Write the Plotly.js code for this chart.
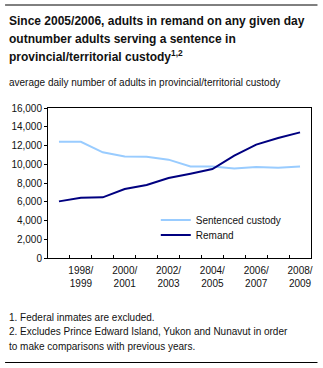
<!DOCTYPE html>
<html>
<head>
<meta charset="utf-8">
<script src="https://cdn.plot.ly/plotly-3.0.1.min.js"></script>
<style>html,body{margin:0;padding:0;background:#fff;}#chart{width:323px;height:368px;}</style>
</head>
<body>
<div id="chart"></div>
<script>
const years = ['1997/1998','1998/1999','1999/2000','2000/2001','2001/2002','2002/2003','2003/2004','2004/2005','2005/2006','2006/2007','2007/2008','2008/2009'];
const sentenced = [12400, 12400, 11270, 10840, 10800, 10490, 9770, 9770, 9560, 9700, 9630, 9770];
const remand = [6040, 6430, 6470, 7360, 7780, 8530, 8990, 9490, 10910, 12090, 12800, 13400];
const tickLabels = ['', '1998/<br>1999', '', '2000/<br>2001', '', '2002/<br>2003', '', '2004/<br>2005', '', '2006/<br>2007', '', '2008/<br>2009'];
const titleLines = ['Since 2005/2006, adults in remand on any given day', 'outnumber adults serving a sentence in', 'provincial/territorial custody<sup>1,2</sup>'];
const subtitleText = 'average daily number of adults in provincial/territorial custody';
const footnoteLines = ['1. Federal inmates are excluded.', '2. Excludes Prince Edward Island, Yukon and Nunavut in order', 'to make comparisons with previous years.'];

const W = 323, H = 368;
const L = 48, R = 311.5, T = 108, B = 258;
const pw = R - L, ph = B - T;
const px = x => (x - L) / pw;
const py = y => (B - y) / ph;
const FONT = 'Liberation Sans, Arial, sans-serif';

const traces = [
  {x: years, y: sentenced, type: 'scatter', mode: 'lines', name: 'Sentenced custody',
   line: {color: '#99CCFF', width: 2}, legend: 'legend'},
  {x: years, y: remand, type: 'scatter', mode: 'lines', name: 'Remand',
   line: {color: '#000080', width: 2}, legend: 'legend2'}
];

const legendBase = {xanchor: 'left', yanchor: 'middle', bgcolor: 'rgba(0,0,0,0)', borderwidth: 0, itemwidth: 30,
                    font: {family: FONT, size: 10, color: '#111'}};

const titleY = [21, 38.5, 56];
const footY = [317, 331.5, 346];

const annotations = [];
titleLines.forEach((t, i) => annotations.push({
  text: '<b>' + t + '</b>', xref: 'paper', yref: 'paper', x: px(7), y: py(titleY[i]), xanchor: 'left', yanchor: 'middle',
  showarrow: false, font: {family: FONT, size: 12, color: '#111'}}));
annotations.push({text: subtitleText, xref: 'paper', yref: 'paper', x: px(7), y: py(82), xanchor: 'left', yanchor: 'middle',
  showarrow: false, font: {family: FONT, size: 10, color: '#111'}});
footnoteLines.forEach((t, i) => annotations.push({
  text: t, xref: 'paper', yref: 'paper', x: px(7), y: py(footY[i]), xanchor: 'left', yanchor: 'middle',
  showarrow: false, font: {family: FONT, size: 10, color: '#111'}}));

const layout = {
  width: W, height: H,
  margin: {l: L, r: W - R, t: T, b: H - B, pad: 0},
  paper_bgcolor: '#fff', plot_bgcolor: '#fff',
  font: {family: FONT, size: 10, color: '#111'},
  showlegend: true,
  legend: Object.assign({x: px(156), y: py(220)}, legendBase),
  legend2: Object.assign({x: px(156), y: py(235)}, legendBase),
  xaxis: {type: 'category', range: [-0.5, 11.5], tickmode: 'array', tickvals: years, ticktext: tickLabels,
          tickson: 'boundaries', ticks: 'inside', ticklen: 3, tickcolor: '#000', tickangle: 0, ticklabelstandoff: 3,
          showline: true, linecolor: '#000', linewidth: 1, mirror: true, showgrid: false, zeroline: false,
          tickfont: {family: FONT, size: 10, color: '#111'}},
  yaxis: {range: [0, 16000], dtick: 2000, tick0: 0, tickformat: ',d', ticks: 'outside', ticklen: 3, tickcolor: '#000',
          showline: true, linecolor: '#000', linewidth: 1, mirror: true, showgrid: false, zeroline: false,
          tickfont: {family: FONT, size: 10, color: '#111'}},
  annotations: annotations,
  shapes: [
    {type: 'line', xref: 'paper', yref: 'paper', x0: px(5), x1: px(318), y0: py(5), y1: py(5), line: {color: '#000', width: 1}},
    {type: 'line', xref: 'paper', yref: 'paper', x0: px(5), x1: px(318), y0: py(362.5), y1: py(362.5), line: {color: '#000', width: 1}}
  ]
};

Plotly.newPlot('chart', traces, layout, {staticPlot: true, displayModeBar: false});
</script>
</body>
</html>
